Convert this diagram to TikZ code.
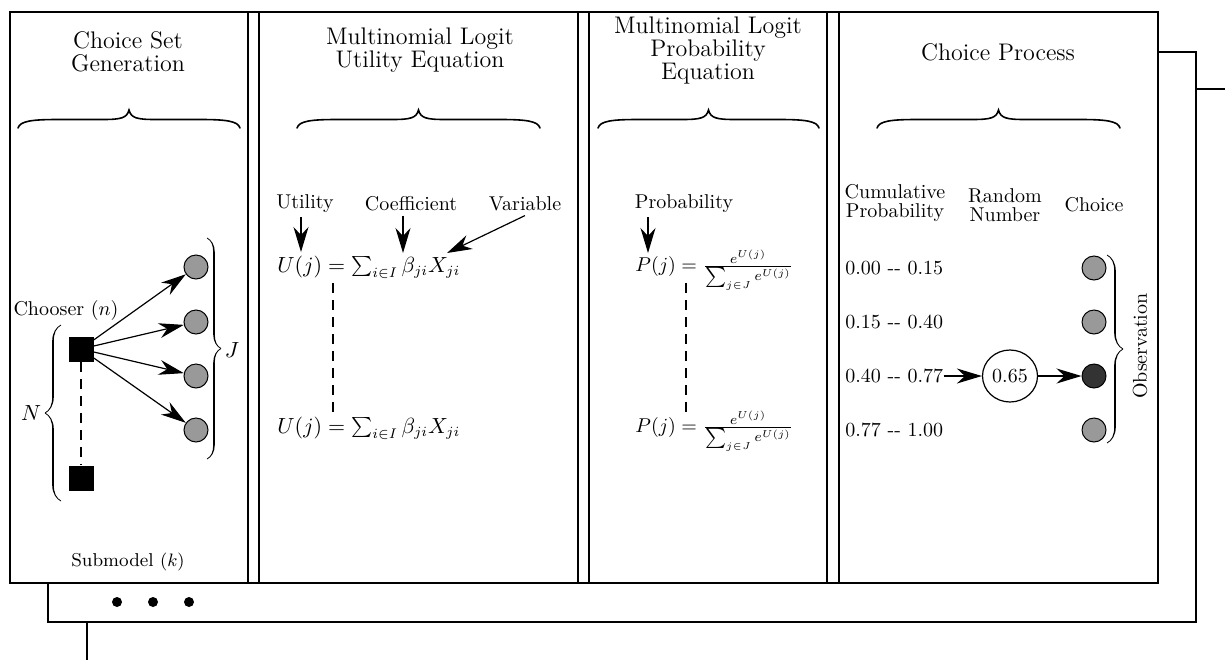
\documentclass[tikz,border=0pt]{standalone}
\usetikzlibrary{arrows.meta,decorations.pathreplacing,calligraphy,shapes.geometric}
\definecolor{altgray}{gray}{0.6}
\definecolor{chosen}{gray}{0.2}
\begin{document}
\begin{tikzpicture}[x=0.5pt,y=-0.5pt,
  boxline/.style={line width=0.8pt},
  arr/.style={line width=0.6pt,-{Stealth[length=12.5pt,width=7.5pt,inset=4pt]}},
  alt/.style={circle,draw,line width=0.5pt,fill=altgray,minimum size=12pt,inner sep=0pt},
  pick/.style={alt,fill=chosen},
  sq/.style={rectangle,fill=black,minimum size=12.5pt,inner sep=0pt},
  dotn/.style={circle,fill=black,minimum size=5pt,inner sep=0pt},
  brline/.style={line width=0.8pt,line cap=round},
  brcs/.style={decorate,decoration={calligraphic brace,amplitude=7pt},line width=0.8pt},
  ttl/.style={align=center,font=\fontsize{12}{11.5}\selectfont,inner sep=0pt},
  hdr/.style={align=center,font=\fontsize{10}{9.5}\selectfont,inner sep=0pt},
  lbl/.style={font=\fontsize{10}{12}\selectfont,inner sep=0pt},
  eqn/.style={anchor=base west,inner sep=0pt,font=\fontsize{10.6}{12}\selectfont},
  eqp/.style={anchor=base west,inner sep=0pt,font=\fontsize{10}{12}\selectfont},
  dsh/.style={line width=0.6pt,dash pattern=on 5pt off 3.5pt}]
\useasboundingbox (0,0) rectangle (1225,659);
% stacked frames
\begin{scope}
\clip (0,0) rectangle (1225,659);
\draw[boxline,fill=white] (87,89) rectangle (1260,700);
\end{scope}
\draw[boxline,fill=white] (48,52) rectangle (1196,622);
\draw[boxline,fill=white] (10,12) rectangle (1158,583);
\foreach \xx in {248,259,578,589,827,839} \draw[boxline] (\xx,12) -- (\xx,583);
\node[dotn] (dA) at (117,602) {};
\node[dotn] (dB) at (153,602) {};
\node[dotn] (dC) at (189,602) {};
% titles
\node[ttl] (t1) at (128,52) {Choice Set\\Generation};
\node[ttl] (t2) at (420,50) {Multinomial Logit\\Utility Equation};
\node[ttl] (t3) at (708,50) {Multinomial Logit\\Probability\\Equation};
\node[ttl] (t4) at (998,52) {Choice Process};
% top braces
\foreach \a/\b in {18/240,297/540,598/819,877/1120} {
  \pgfmathsetmacro\m{(\a+\b)/2}
  \draw[brline] (\a,128) .. controls (\a+2,121) and (\a+14,119.5) .. (\a+40,119.5)
    -- (\m-26,119.5) .. controls (\m-8,119.5) and (\m-2,118) .. (\m,110)
    .. controls (\m+2,118) and (\m+8,119.5) .. (\m+26,119.5)
    -- (\b-40,119.5) .. controls (\b-14,119.5) and (\b-2,121) .. (\b,128);
}
% panel 1
\node[sq] (s1) at (81,349) {};
\node[sq] (s2) at (81,478) {};
\node[alt] (c1) at (196,267) {};
\node[alt] (c2) at (196,322) {};
\node[alt] (c3) at (196,376) {};
\node[alt] (c4) at (196,430) {};
\foreach \cc in {c1,c2,c3,c4} \draw[arr] (s1) -- (\cc);
\draw[dsh] (s1) -- (s2);
\node[lbl] (chooser) at (66,310) {Chooser $(n)$};
\draw[brcs,decoration={amplitude=8pt}] (61,501) -- (61,325);
\node[lbl,font=\fontsize{11}{12}\selectfont] (Nl) at (31,413) {$N$};
\draw[brcs] (207,238) -- (207,459);
\node[lbl,font=\fontsize{11}{12}\selectfont] (Jl) at (232,350) {$J$};
\node[lbl,font=\fontsize{9.3}{11}\selectfont] (sub) at (128,562) {Submodel $(k)$};
% panel 2
\node[lbl] (util) at (305,204) {Utility};
\node[lbl] (coef) at (411,204) {Coefficient};
\node[lbl] (var) at (525,204) {Variable};
\coordinate (uT) at (301,252);
\coordinate (cT) at (403,253);
\coordinate (vT) at (447,253);
\draw[arr] (util.south -| uT) ++(0,4) -- (uT);
\draw[arr] (coef.south -| cT) ++(0,4) -- (cT);
\draw[arr] ([yshift=-2pt]var.south) -- (vT);
\node[eqn] (eqU1) at (277,272) {$U(j) = \sum_{i\in I}\beta_{ji}X_{ji}$};
\node[eqn] (eqU2) at (277,433) {$U(j) = \sum_{i\in I}\beta_{ji}X_{ji}$};
\coordinate (dU1) at (333,283);
\coordinate (dU2) at (333,418);
\draw[dsh] (dU1) -- (dU2);
% panel 3
\node[lbl] (prob) at (684,204) {Probability};
\coordinate (pT) at (648,253);
\draw[arr] (prob.south -| pT) ++(0,4) -- (pT);
\node[eqp] (eqP1) at (635,271) {$P(j) = \frac{e^{U(j)}}{\sum_{j\in J} e^{U(j)}}$};
\node[eqp] (eqP2) at (635,432) {$P(j) = \frac{e^{U(j)}}{\sum_{j\in J} e^{U(j)}}$};
\coordinate (dP1) at (686,283);
\coordinate (dP2) at (686,417);
\draw[dsh] (dP1) -- (dP2);
% panel 4
\node[hdr] (cum) at (895,203) {Cumulative\\Probability};
\node[hdr] (rnd) at (1005,205) {Random\\Number};
\node[lbl] (cho) at (1094,205) {Choice};
\node[lbl,anchor=west] (r1) at (845,268) {0.00 -{}- 0.15};
\node[lbl,anchor=west] (r2) at (845,322) {0.15 -{}- 0.40};
\node[lbl,anchor=west] (r3) at (845,376) {0.40 -{}- 0.77};
\node[lbl,anchor=west] (r4) at (845,430) {0.77 -{}- 1.00};
\node[alt] (o1) at (1094,268) {};
\node[alt] (o2) at (1094,322) {};
\node[pick] (o3) at (1094,376) {};
\node[alt] (o4) at (1094,430) {};
\node[ellipse,draw,line width=0.6pt,minimum width=27.5pt,minimum height=26pt,inner sep=0pt,font=\fontsize{10}{12}\selectfont] (rn) at (1010,376) {0.65};
\draw[arr] (r3) -- (rn);
\draw[arr] (rn) -- (o3);
\draw[brcs,decoration={amplitude=8pt}] (1107,255) -- (1107,443);
\node[lbl,rotate=90] (obs) at (1140,346) {Observation};
\end{tikzpicture}
\end{document}
